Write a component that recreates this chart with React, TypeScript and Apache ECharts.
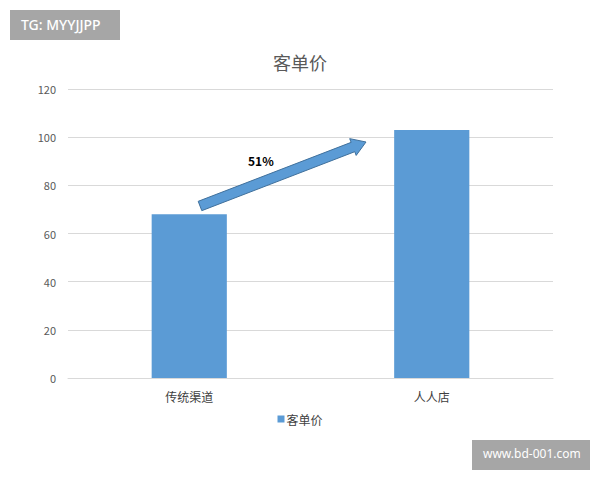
import React, { useEffect, useRef } from 'react';
import * as echarts from 'echarts';

const categories = ['传统渠道', '人人店'];
const values = [68, 103];
const seriesName = '客单价';
const growthLabel = '51%';

const BLUE = '#5b9bd5';
const FONT = '"Microsoft YaHei", "Noto Sans CJK SC", sans-serif';

// arrow annotation between the two bars (pixels)
const arrowTail = [200, 206];
const arrowTip = [366, 142];

function arrowPoints() {
  const dx = arrowTip[0] - arrowTail[0];
  const dy = arrowTip[1] - arrowTail[1];
  const len = Math.sqrt(dx * dx + dy * dy);
  const ux = dx / len;
  const uy = dy / len;
  const nx = -uy;
  const ny = ux;
  const shaft = 5;
  const head = 9;
  const headLen = 14;
  const bx = arrowTip[0] - ux * headLen;
  const by = arrowTip[1] - uy * headLen;
  return [
    [arrowTail[0] + nx * shaft, arrowTail[1] + ny * shaft],
    [bx + nx * shaft, by + ny * shaft],
    [bx + nx * head, by + ny * head],
    [arrowTip[0], arrowTip[1]],
    [bx - nx * head, by - ny * head],
    [bx - nx * shaft, by - ny * shaft],
    [arrowTail[0] - nx * shaft, arrowTail[1] - ny * shaft],
  ];
}

export default function App() {
  const chartRef = useRef<HTMLDivElement>(null);

  useEffect(() => {
    if (!chartRef.current) return;
    const chart = echarts.init(chartRef.current, undefined, { renderer: 'svg' });

    const option: echarts.EChartsOption = {
      animation: false,
      backgroundColor: '#ffffff',
      textStyle: { fontFamily: FONT },
      title: {
        text: seriesName,
        left: 'center',
        top: 48,
        textStyle: { fontSize: 18, fontWeight: 'normal', color: '#595959', fontFamily: FONT },
      },
      legend: {
        data: [seriesName],
        bottom: 50,
        left: 'center',
        icon: 'rect',
        itemWidth: 7,
        itemHeight: 7,
        itemGap: 4,
        textStyle: { fontSize: 12, color: '#404040', padding: [0, 0, 0, -3] },
      },
      grid: { left: 68, right: 47, top: 89, bottom: 102 },
      xAxis: {
        type: 'category',
        data: categories,
        axisLine: { show: true, lineStyle: { color: '#d9d9d9', width: 1 } },
        axisTick: { show: false },
        axisLabel: { fontSize: 12, color: '#404040', margin: 12 },
      },
      yAxis: {
        type: 'value',
        min: 0,
        max: 120,
        interval: 20,
        axisLine: { show: false },
        axisTick: { show: false },
        axisLabel: { fontSize: 11, color: '#595959', margin: 12 },
        splitLine: { lineStyle: { color: '#d9d9d9', width: 1 } },
      },
      series: [
        {
          name: seriesName,
          type: 'bar',
          data: values,
          barWidth: '31%',
          itemStyle: { color: BLUE },
        },
      ],
      graphic: [
        {
          type: 'polygon',
          shape: { points: arrowPoints() },
          style: { fill: BLUE, stroke: '#41719c', lineWidth: 1 },
          z: 100,
        },
        {
          type: 'text',
          left: 248,
          top: 154,
          style: {
            text: growthLabel,
            fill: '#000000',
            font: 'bold 12px ' + FONT,
          },
          z: 100,
        },
        {
          type: 'rect',
          left: 10,
          top: 10,
          shape: { width: 110, height: 30 },
          style: { fill: '#a6a6a6' },
          z: 100,
        },
        {
          type: 'text',
          left: 21,
          top: 17,
          style: {
            text: 'TG: MYYJJPP',
            fill: '#ffffff',
            font: '500 14px "Noto Sans", sans-serif',
          },
          z: 101,
        },
        {
          type: 'rect',
          left: 472,
          top: 440,
          shape: { width: 118, height: 30 },
          style: { fill: '#a6a6a6' },
          z: 100,
        },
        {
          type: 'text',
          left: 483,
          top: 447,
          style: {
            text: 'www.bd-001.com',
            fill: '#ffffff',
            font: '12px "Noto Sans", sans-serif',
          },
          z: 101,
        },
      ],
    };

    chart.setOption(option);

    return () => {
      chart.dispose();
    };
  }, []);

  return (
    <div
      ref={chartRef}
      style={{ position: 'fixed', left: 0, top: 0, width: '600px', height: '480px' }}
    />
  );
}
